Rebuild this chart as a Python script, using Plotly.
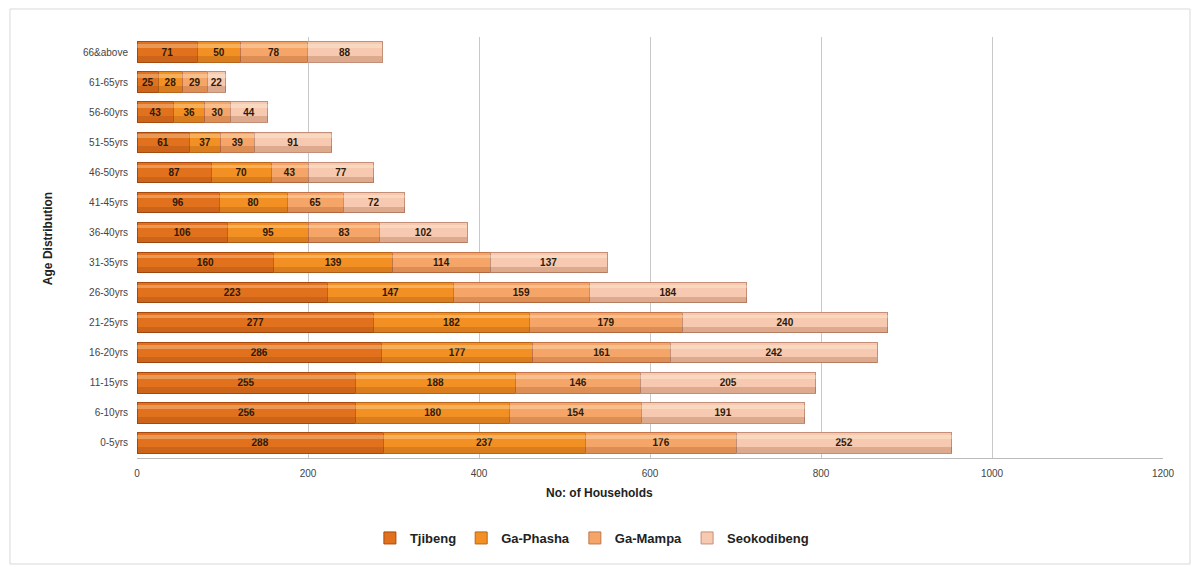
import plotly.graph_objects as go

# Age groups (bottom to top) and households per village
age_groups = ["0-5yrs", "6-10yrs", "11-15yrs", "16-20yrs", "21-25yrs", "26-30yrs",
              "31-35yrs", "36-40yrs", "41-45yrs", "46-50yrs", "51-55yrs",
              "56-60yrs", "61-65yrs", "66&above"]
tjibeng = [288, 256, 255, 286, 277, 223, 160, 106, 96, 87, 61, 43, 25, 71]
ga_phasha = [237, 180, 188, 177, 182, 147, 139, 95, 80, 70, 37, 36, 28, 50]
ga_mampa = [176, 154, 146, 161, 179, 159, 114, 83, 65, 43, 39, 30, 29, 78]
seokodibeng = [252, 191, 205, 242, 240, 184, 137, 102, 72, 77, 91, 44, 22, 88]
x_ticks = [0, 200, 400, 600, 800, 1000, 1200]

series = [
    ("Tjibeng", tjibeng, "#e2711d", "#a84a0e"),
    ("Ga-Phasha", ga_phasha, "#f39024", "#b8641a"),
    ("Ga-Mampa", ga_mampa, "#f6a568", "#c2744a"),
    ("Seokodibeng", seokodibeng, "#f7c9b0", "#c48f78"),
]

BAR_W = 0.68

fig = go.Figure()
for name, vals, color, edge in series:
    fig.add_trace(go.Bar(
        y=age_groups, x=vals, name=name, orientation="h",
        width=BAR_W,
        marker=dict(color=color, line=dict(color=edge, width=1)),
        text=vals, textposition="inside", insidetextanchor="middle",
        texttemplate="<b>%{text}</b>",
        textfont=dict(family="Liberation Sans", size=10, color="#2e1a08"),
        constraintext="none",
    ))

# cylinder-style shading: darker lower band and pale highlight on each segment
for name, vals, color, edge in series:
    fig.add_trace(go.Bar(
        y=age_groups, x=vals, orientation="h", yaxis="y2",
        width=0.2, offset=-BAR_W / 2,
        marker=dict(color="rgba(120,50,10,0.2)", line=dict(width=0)),
        showlegend=False, hoverinfo="skip",
    ))
    fig.add_trace(go.Bar(
        y=age_groups, x=vals, orientation="h", yaxis="y3",
        width=0.12, offset=BAR_W / 2 - 0.2,
        marker=dict(color="rgba(255,255,235,0.28)", line=dict(width=0)),
        showlegend=False, hoverinfo="skip",
    ))

axis_common = dict(categoryorder="array", categoryarray=age_groups,
                   showgrid=False, showline=False, ticks="")

fig.update_layout(
    width=1196, height=567,
    barmode="stack",
    plot_bgcolor="white", paper_bgcolor="white",
    margin=dict(l=137, r=33, t=37, b=109),
    font=dict(family="Liberation Sans", size=10, color="#333333"),
    uniformtext=dict(minsize=8, mode="show"),
    xaxis=dict(
        range=[0, 1200], tickvals=x_ticks, showgrid=True,
        gridcolor="#c8c8c8", gridwidth=1, zeroline=False,
        showline=True, linecolor="#bbbbbb", ticks="",
        ticklabelstandoff=6,
        tickfont=dict(size=10, color="#444444"),
    ),
    yaxis=dict(**axis_common, ticklabelstandoff=8,
               tickfont=dict(size=10, color="#444444")),
    yaxis2=dict(**axis_common, overlaying="y", showticklabels=False),
    yaxis3=dict(**axis_common, overlaying="y", showticklabels=False),
    legend=dict(
        orientation="h", x=0.227, xanchor="left", y=-0.19, yanchor="middle",
        font=dict(size=13, color="#222222", weight="bold"), traceorder="normal",
        itemwidth=30,
    ),
    annotations=[
        dict(text="<b>No: of Households</b>", xref="paper", yref="paper",
             x=0.451, y=-0.083, showarrow=False, xanchor="center",
             yanchor="middle", font=dict(size=12, color="#222222")),
        dict(text="<b>Age Distribution</b>", xref="paper", yref="paper",
             x=-0.0867, y=0.52, showarrow=False, textangle=-90,
             xanchor="center", yanchor="middle",
             font=dict(size=12, color="#222222")),
    ],
    shapes=[dict(
        type="rect", xref="paper", yref="paper",
        x0=-0.1238, x1=1.0263, y0=-0.2518, y1=1.0665,
        line=dict(color="#d9d9d9", width=1), fillcolor="rgba(0,0,0,0)",
        layer="below",
    )],
)

fig.write_html("out.html")
